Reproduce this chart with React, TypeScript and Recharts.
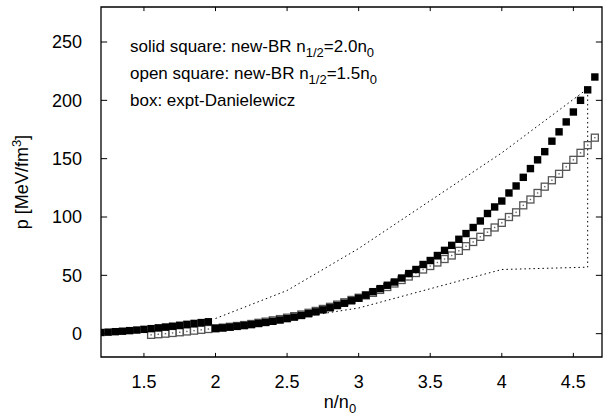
import React from "react";
import { ComposedChart, Scatter, XAxis, YAxis, ReferenceLine, ReferenceArea } from "recharts";

const xTicks = [1.5, 2, 2.5, 3, 3.5, 4, 4.5];
const yTicks = [0, 50, 100, 150, 200, 250];

const solidX = [1.2,1.25,1.3,1.35,1.4,1.45,1.5,1.55,1.6,1.65,1.7,1.75,1.8,1.85,1.9,1.95,2.0,2.05,2.1,2.15,2.2,2.25,2.3,2.35,2.4,2.45,2.5,2.55,2.6,2.65,2.7,2.75,2.8,2.85,2.9,2.95,3.0,3.05,3.1,3.15,3.2,3.25,3.3,3.35,3.4,3.45,3.5,3.55,3.6,3.65,3.7,3.75,3.8,3.85,3.9,3.95,4.0,4.05,4.1,4.15,4.2,4.25,4.3,4.35,4.4,4.45,4.5,4.55,4.6,4.65];
const solidY = [1,1.3,1.7,2.1,2.6,3.1,3.7,4.3,5,5.7,6.4,7.2,8,8.8,9.5,10.2,4.5,5,5.6,6.3,7,7.8,8.7,9.6,10.6,11.7,12.9,14.2,15.6,17.1,18.7,20.4,22.2,24.1,26.1,28.2,30.4,33,36,38.6,41.5,44.3,47.7,51.5,55,59.3,62.7,67,71.4,75.7,80.9,85.8,91,96.6,103,108.6,113.7,120.6,126.6,134,141.5,149,156,165,173,181.5,190,200,209,220];
const openX = [1.55,1.6,1.65,1.7,1.75,1.8,1.85,1.9,1.95,2.0,2.05,2.1,2.15,2.2,2.25,2.3,2.35,2.4,2.45,2.5,2.55,2.6,2.65,2.7,2.75,2.8,2.85,2.9,2.95,3.0,3.05,3.1,3.15,3.2,3.25,3.3,3.35,3.4,3.45,3.5,3.55,3.6,3.65,3.7,3.75,3.8,3.85,3.9,3.95,4.0,4.05,4.1,4.15,4.2,4.25,4.3,4.35,4.4,4.45,4.5,4.55,4.6,4.65];
const openY = [-1,-0.5,0,0.6,1.2,1.9,2.6,3.3,4,4.6,5.2,5.9,6.6,7.4,8.3,9.3,10.3,11.4,12.5,13.7,15,16.4,17.9,19.5,21.2,23,24.9,26.9,28.9,30.8,32.8,35,37.5,40,43,46,49,52,55,58,61,64,67,71,75,78.6,83,87,91,95,100,104,110,115,120.6,126,131.5,137,143,149,155,161.6,168];
const boxX = [2.0, 2.5, 3.0, 4.0, 4.6, 4.6, 4.0, 3.0, 2.0];
const boxY = [13, 37, 73, 155, 210, 57, 55, 22, 3];

const solid = solidX.map((x, i) => ({ x, y: solidY[i] }));
const open = openX.map((x, i) => ({ x, y: openY[i] }));
const box = boxX.map((x, i) => ({ x, y: boxY[i] }));

const SolidSq = (p: any) => <rect x={p.cx - 3.7} y={p.cy - 3.7} width={7.4} height={7.4} fill="#000" />;
const OpenSq = (p: any) => (
  <g>
    <rect x={p.cx - 3.5} y={p.cy - 3.5} width={7} height={7} fill="#fff" stroke="#555" strokeWidth={1.3} />
    <rect x={p.cx - 0.7} y={p.cy - 0.7} width={1.4} height={1.4} fill="#666" />
  </g>
);
const NoShape = () => <g />;

const font = "'Liberation Sans', Arial, sans-serif";

export default function App() {
  return (
    <div style={{ position: "absolute", left: 0, top: 0, width: 603, height: 418, background: "#fff" }}>
      <ComposedChart width={603} height={418} margin={{ top: 7, right: 1, left: 41, bottom: 31 }} style={{ fontFamily: font }}>
        <XAxis type="number" dataKey="x" domain={[1.2, 4.7]} ticks={xTicks} allowDataOverflow axisLine={false} tickLine={false}
          tick={{ fill: "#000", fontSize: 18, fontFamily: font }} tickMargin={12} height={30} />
        <YAxis type="number" dataKey="y" domain={[-20, 280]} ticks={yTicks} allowDataOverflow axisLine={false} tickLine={false}
          tick={{ fill: "#000", fontSize: 18, fontFamily: font }} tickMargin={13} width={60} />
        <ReferenceArea x1={1.2} x2={4.7} y1={-20} y2={280} fill="none" stroke="#000" strokeWidth={1.3} ifOverflow="visible" />
        {xTicks.map((t) => (
          <ReferenceLine key={"xb" + t} segment={[{ x: t, y: -20 }, { x: t, y: -16.5 }]} stroke="#000" />
        ))}
        {xTicks.map((t) => (
          <ReferenceLine key={"xt" + t} segment={[{ x: t, y: 280 }, { x: t, y: 276.5 }]} stroke="#000" />
        ))}
        {yTicks.map((t) => (
          <ReferenceLine key={"yl" + t} segment={[{ x: 1.2, y: t }, { x: 1.243, y: t }]} stroke="#000" />
        ))}
        {yTicks.map((t) => (
          <ReferenceLine key={"yr" + t} segment={[{ x: 4.7, y: t }, { x: 4.657, y: t }]} stroke="#000" />
        ))}
        <Scatter data={box} line={{ stroke: "#000", strokeDasharray: "1.5 3", strokeWidth: 1 }} shape={NoShape} isAnimationActive={false} />
        <Scatter data={open} shape={OpenSq} isAnimationActive={false} />
        <Scatter data={solid} shape={SolidSq} isAnimationActive={false} />
      </ComposedChart>
      <svg width={603} height={418} style={{ position: "absolute", left: 0, top: 0, pointerEvents: "none", fontFamily: font }}>
        <text x={130} y={52} fontSize={17}>solid square: new-BR n<tspan fontSize={13} dy={5}>1/2</tspan><tspan dy={-5}>=2.0n</tspan><tspan fontSize={13} dy={5}>0</tspan></text>
        <text x={130} y={79} fontSize={17}>open square: new-BR n<tspan fontSize={13} dy={5}>1/2</tspan><tspan dy={-5}>=1.5n</tspan><tspan fontSize={13} dy={5}>0</tspan></text>
        <text x={130} y={106} fontSize={17}>box: expt-Danielewicz</text>
        <text x={340} y={408} fontSize={18} textAnchor="middle">n/n<tspan fontSize={13} dy={5}>0</tspan></text>
        <text transform="translate(28,182) rotate(-90)" fontSize={18} textAnchor="middle">p  [MeV/fm<tspan fontSize={13} dy={-7}>3</tspan><tspan dy={7}>]</tspan></text>
      </svg>
    </div>
  );
}
